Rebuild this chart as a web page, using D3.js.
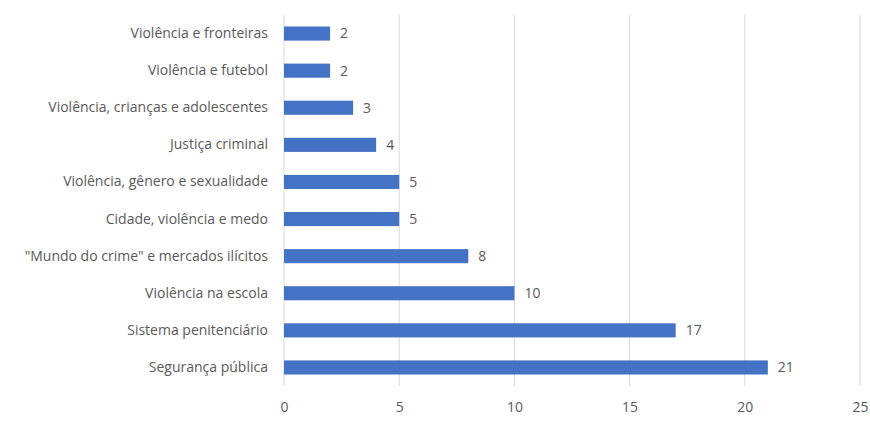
<!DOCTYPE html>
<html>
<head>
<meta charset="utf-8">
<script src="https://cdn.jsdelivr.net/npm/d3@7"></script>
<style>
  body { margin: 0; background: #fff; }
  text { font-family: "Open Sans", "Noto Sans", sans-serif; fill: #595959; }
</style>
</head>
<body>
<svg width="870" height="424"></svg>
<script>
var categories = [
  "Violência e fronteiras",
  "Violência e futebol",
  "Violência, crianças e adolescentes",
  "Justiça criminal",
  "Violência, gênero e sexualidade",
  "Cidade, violência e medo",
  "\"Mundo do crime\" e mercados ilícitos",
  "Violência na escola",
  "Sistema penitenciário",
  "Segurança pública"
];
var values = [2, 2, 3, 4, 5, 5, 8, 10, 17, 21];
var xTicks = [0, 5, 10, 15, 20, 25];

var svg = d3.select("svg"),
    margin = {top: 15, right: 10, bottom: 38, left: 284},
    width = 860 - margin.left,
    height = 386 - margin.top;

var g = svg.append("g")
           .attr("transform", "translate(" + margin.left + "," + margin.top + ")");

var x = d3.scaleLinear().domain([0, 25]).range([0, width]);
var y = d3.scaleBand().domain(categories).range([0, height]).paddingInner(0.62).paddingOuter(0.31);

// vertical gridlines
g.selectAll(".grid")
 .data(xTicks)
 .enter().append("line")
 .attr("class", "grid")
 .attr("x1", function(d) { return x(d); })
 .attr("x2", function(d) { return x(d); })
 .attr("y1", 0)
 .attr("y2", height)
 .attr("stroke", "#d9d9d9")
 .attr("stroke-width", 1);

// x axis labels
var xAxis = g.append("g")
 .attr("transform", "translate(0," + height + ")")
 .call(d3.axisBottom(x).tickValues(xTicks).tickSize(0).tickPadding(16));
xAxis.select(".domain").remove();
xAxis.selectAll("text").style("font-size", "14px").attr("fill", "#595959");

// y axis labels
var yAxis = g.append("g")
 .call(d3.axisLeft(y).tickSize(0).tickPadding(16));
yAxis.select(".domain").remove();
yAxis.selectAll("text").style("font-size", "14px").attr("fill", "#595959");

// bars
g.selectAll(".bar")
 .data(values)
 .enter().append("rect")
 .attr("class", "bar")
 .attr("x", x(0))
 .attr("y", function(d, i) { return y(categories[i]); })
 .attr("width", function(d) { return x(d) - x(0); })
 .attr("height", y.bandwidth())
 .attr("fill", "#4472c4");

// value labels
g.selectAll(".val")
 .data(values)
 .enter().append("text")
 .attr("class", "val")
 .attr("x", function(d) { return x(d) + 10; })
 .attr("y", function(d, i) { return y(categories[i]) + y.bandwidth() / 2; })
 .attr("dy", "0.35em")
 .style("font-size", "14px")
 .text(function(d) { return d; });
</script>
</body>
</html>
